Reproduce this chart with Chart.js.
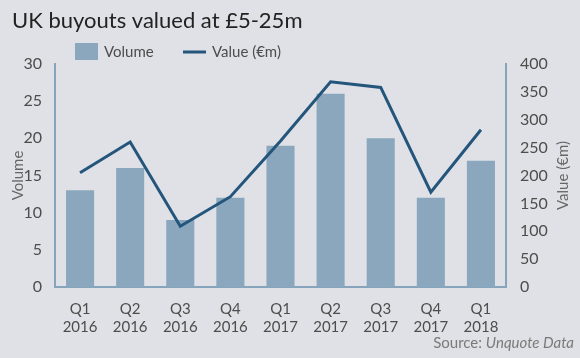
<!DOCTYPE html>
<html>
<head>
<meta charset="utf-8">
<script src="https://cdn.jsdelivr.net/npm/chart.js@4"></script>
<style>
  html, body { margin: 0; padding: 0; background: #dfe1e6; }
  #wrap { width: 580px; height: 358px; position: relative; }
</style>
</head>
<body>
<div id="wrap"><canvas id="buyoutChart"></canvas></div>
<script>
// === DATA ===
const quarters = [['Q1', '2016'], ['Q2', '2016'], ['Q3', '2016'], ['Q4', '2016'],
  ['Q1', '2017'], ['Q2', '2017'], ['Q3', '2017'], ['Q4', '2017'], ['Q1', '2018']];
const volume = [13, 16, 9, 12, 19, 26, 20, 12, 17];
const valueEm = [205, 260, 109, 162, 262, 368, 358, 170, 282];
const volumeTicks = [0, 5, 10, 15, 20, 25, 30];
const valueTicks = [0, 50, 100, 150, 200, 250, 300, 350, 400];

const BAR = '#8aa7bd';
const LINE = '#24557b';
const AXIS = '#86a4bb';
const TEXT = '#4d4d4d';
const FONT = 'Lato, "Open Sans", sans-serif';

// === TEXT OUTSIDE THE PLOT (title, legend, axis titles, source) ===
const decor = {
  id: 'decor',
  afterDraw(chart) {
    const ctx = chart.ctx;
    const ds = chart.data.datasets;
    ctx.save();
    ctx.textBaseline = 'alphabetic';
    ctx.textAlign = 'left';

    // title
    ctx.fillStyle = '#222';
    ctx.font = '22px ' + FONT;
    ctx.fillText('UK buyouts valued at £5-25m', 12, 28);

    // legend
    ctx.font = '15px ' + FONT;
    ctx.fillStyle = ds[0].backgroundColor;
    ctx.fillRect(75, 43, 23, 17);
    ctx.fillStyle = TEXT;
    ctx.fillText(ds[0].label, 104, 57);
    ctx.strokeStyle = ds[1].borderColor;
    ctx.lineWidth = 3;
    ctx.beginPath();
    ctx.moveTo(183, 52);
    ctx.lineTo(206, 52);
    ctx.stroke();
    ctx.fillText(ds[1].label, 212, 57);

    // axis titles, both read bottom to top
    ctx.fillStyle = '#666';
    ctx.font = '15px ' + FONT;
    ctx.textAlign = 'center';
    const midY = (chart.chartArea.top + chart.chartArea.bottom) / 2;
    [[18, 'Volume'], [563, 'Value (€m)']].forEach(([x, t]) => {
      ctx.save();
      ctx.translate(x, midY);
      ctx.rotate(-Math.PI / 2);
      ctx.textBaseline = 'middle';
      ctx.fillText(t, 0, 0);
      ctx.restore();
    });

    // source
    ctx.textAlign = 'right';
    ctx.fillStyle = '#7a7a7a';
    ctx.font = 'italic 15px ' + FONT;
    const src = 'Unquote Data';
    ctx.fillText(src, 574, 348);
    const w = ctx.measureText(src).width;
    ctx.font = '15px ' + FONT;
    ctx.fillText('Source: ', 574 - w, 348);
    ctx.restore();
  }
};

// === CREATE CHART ===
const ctx = document.getElementById('buyoutChart').getContext('2d');
const chart = new Chart(ctx, {
  data: {
    labels: quarters,
    datasets: [{
      type: 'bar',
      label: 'Volume',
      data: volume,
      backgroundColor: BAR,
      barPercentage: 0.56,
      categoryPercentage: 1,
      yAxisID: 'y',
      order: 2
    }, {
      type: 'line',
      label: 'Value (€m)',
      data: valueEm,
      borderColor: LINE,
      borderWidth: 3,
      pointRadius: 0,
      tension: 0,
      yAxisID: 'y1',
      order: 1
    }]
  },
  options: {
    responsive: true,
    maintainAspectRatio: false,
    animation: false,
    layout: { padding: { top: 64, bottom: 0, left: 0, right: 0 } },
    plugins: { legend: { display: false }, tooltip: { enabled: false } },
    scales: {
      x: {
        grid: { display: false },
        border: { display: true, color: AXIS, width: 2 },
        ticks: { color: TEXT, font: { family: FONT, size: 15, lineHeight: 1.2 }, padding: 5, maxRotation: 0 },
        afterFit: s => { s.height = 71; }
      },
      y: {
        position: 'left',
        min: 0, max: 30,
        afterBuildTicks: s => { s.ticks = volumeTicks.map(v => ({ value: v })); },
        grid: { display: false },
        border: { display: true, color: AXIS, width: 2 },
        ticks: { color: TEXT, font: { family: FONT, size: 16 }, padding: 5 },
        afterFit: s => { s.width = 55; }
      },
      y1: {
        position: 'right',
        min: 0, max: 400,
        afterBuildTicks: s => { s.ticks = valueTicks.map(v => ({ value: v })); },
        grid: { display: false },
        border: { display: true, color: AXIS, width: 2 },
        ticks: { color: TEXT, font: { family: FONT, size: 16 }, padding: 6 },
        afterFit: s => { s.width = 74; }
      }
    }
  },
  plugins: [decor]
});
</script>
</body>
</html>
